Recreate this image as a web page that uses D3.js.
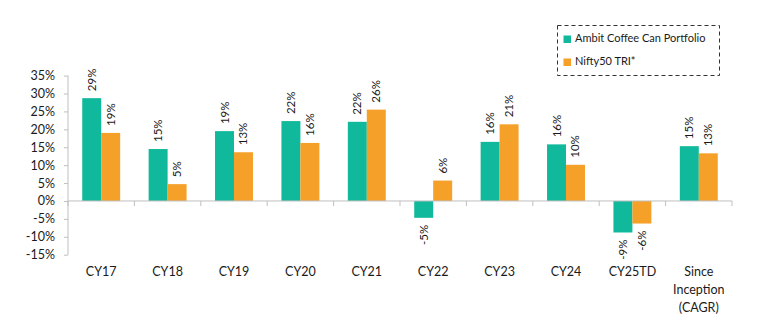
<!DOCTYPE html>
<html><head><meta charset="utf-8">
<script src="https://cdn.jsdelivr.net/npm/d3@7"></script>
<style>body{margin:0;background:#fff;}svg{display:block;font-family:Lato,"Open Sans",sans-serif;font-weight:400;}</style>
</head><body>
<script>
const categories = ["CY17","CY18","CY19","CY20","CY21","CY22","CY23","CY24","CY25TD","Since Inception (CAGR)"];
const categoryLines = [["CY17"],["CY18"],["CY19"],["CY20"],["CY21"],["CY22"],["CY23"],["CY24"],["CY25TD"],["Since","Inception","(CAGR)"]];
const seriesNames = ["Ambit Coffee Can Portfolio","Nifty50 TRI*"];
const ambit = [28.7, 14.5, 19.5, 22.3, 22.1, -4.7, 16.5, 15.8, -8.8, 15.3];
const nifty = [19.0, 4.7, 13.6, 16.2, 25.5, 5.7, 21.4, 10.1, -6.3, 13.3];
const ambitLabels = ["29%","15%","19%","22%","22%","-5%","16%","16%","-9%","15%"];
const niftyLabels = ["19%","5%","13%","16%","26%","6%","21%","10%","-6%","13%"];
const yTicks = [-15,-10,-5,0,5,10,15,20,25,30,35];
const colors = ["#10b99b","#f5a028"];

const W = 762, H = 334;
const svg = d3.select("body").append("svg").attr("width",W).attr("height",H);
const x0 = d3.scaleBand().domain(categories).range([68,732]).padding(0);
const x1 = d3.scaleBand().domain([0,1]).range([0, x0.bandwidth()]).paddingOuter(0.75).paddingInner(0);
const y = d3.scaleLinear().domain([-15,35]).range([254.7,75.6]);

// y axis
const yAxis = svg.append("g").attr("transform","translate(68,0)")
  .call(d3.axisLeft(y).tickValues(yTicks).tickFormat(d=>d+"%").tickSize(4).tickPadding(9));
yAxis.select(".domain").attr("stroke","#bfbfbf").attr("d","M0,"+y(-15)+"V"+y(35));
yAxis.selectAll(".tick line").attr("stroke","#bfbfbf");
yAxis.selectAll("text").attr("fill","#1a1a1a").style("font-size","12.5px").style("font-family","Lato,sans-serif").style("font-weight","400");

// bars
const series = [ambit, nifty];
const labels = [ambitLabels, niftyLabels];
series.forEach((vals, s) => {
  svg.append("g").selectAll("rect").data(vals).join("rect")
    .attr("x",(d,i)=>x0(categories[i])+x1(s))
    .attr("width",x1.bandwidth())
    .attr("y",d=>y(Math.max(0,d)))
    .attr("height",d=>Math.abs(y(d)-y(0)))
    .attr("fill",colors[s]);
  svg.append("g").selectAll("text").data(vals).join("text")
    .attr("transform",(d,i)=>{
      const cx = x0(categories[i])+x1(s)+x1.bandwidth()/2+4;
      const cy = d>=0 ? y(d)-7 : y(d)+7;
      return `translate(${cx},${cy}) rotate(-90)`;
    })
    .attr("text-anchor",d=>d>=0?"start":"end")
    .attr("fill","#1a1a1a").style("font-size","11.5px")
    .text((d,i)=>labels[s][i]);
});

// x axis (zero line)
const xg = svg.append("g");
xg.append("line").attr("x1",68).attr("x2",732).attr("y1",y(0)).attr("y2",y(0)).attr("stroke","#bfbfbf");
xg.selectAll("line.t").data(categories.concat(["end"])).join("line").attr("class","t")
  .attr("x1",(d,i)=>68+i*x0.bandwidth()).attr("x2",(d,i)=>68+i*x0.bandwidth())
  .attr("y1",y(0)).attr("y2",y(0)+5).attr("stroke","#bfbfbf");
const cl = svg.append("g").selectAll("text").data(categoryLines).join("text")
  .attr("x",(d,i)=>x0(categories[i])+x0.bandwidth()/2)
  .attr("y",273).attr("text-anchor","middle").attr("dominant-baseline","middle")
  .attr("fill","#1a1a1a").style("font-size","12.5px");
cl.selectAll("tspan").data(d=>d).join("tspan")
  .attr("x",function(){return this.parentNode.getAttribute("x");})
  .attr("dy",(d,i)=>i===0?0:18).text(d=>d);

// legend
const lg = svg.append("g");
lg.append("rect").attr("x",557.5).attr("y",25.5).attr("width",162).attr("height",50)
  .attr("fill","none").attr("stroke","#333").attr("stroke-dasharray","4,3");
seriesNames.forEach((n,i)=>{
  const yy = 39 + i*23;
  lg.append("rect").attr("x",563.5).attr("y",yy-3.5).attr("width",7.5).attr("height",7.5).attr("fill",colors[i]);
  lg.append("text").attr("x",575).attr("y",yy).attr("dominant-baseline","middle")
    .attr("fill","#1a1a1a").style("font-size","11px").text(n);
});
</script>
</body></html>
